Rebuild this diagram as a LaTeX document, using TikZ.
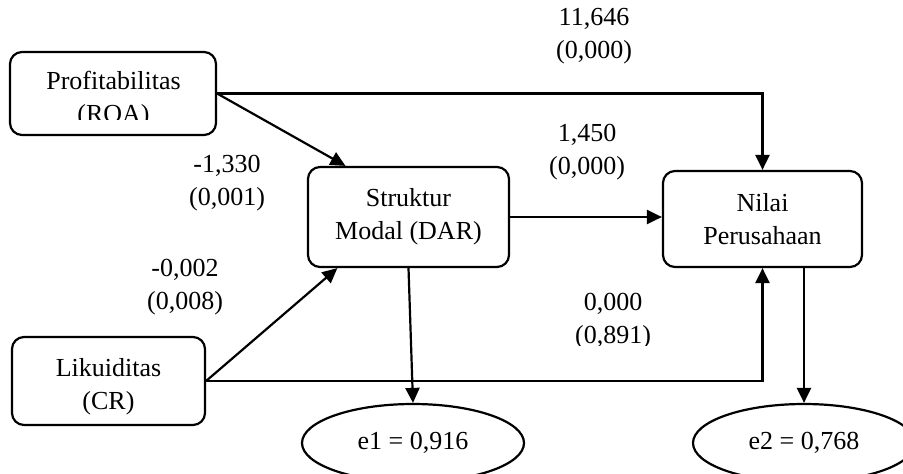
\documentclass[tikz,border=0pt]{standalone}
\usepackage{fontspec}
\setmainfont{Liberation Serif}
\usetikzlibrary{arrows.meta,calc,shapes.geometric}
\tikzset{
  box/.style={draw,line width=2.2pt,rounded corners=12pt,align=center,inner sep=0pt},
  err/.style={draw,line width=2.2pt,ellipse,inner sep=0pt,minimum width=222pt,minimum height=78pt},
  lbl/.style={align=center,inner sep=0pt},
  arr/.style={line width=2.2pt,-{Triangle[length=15pt,width=14pt]}},
}
\begin{document}
\begin{tikzpicture}[x=1pt,y=-1pt,font=\fontsize{26}{33}\selectfont]
\useasboundingbox (0,0) rectangle (903,474);
\begin{scope}
\clip (0,0) rectangle (903,474);
% boxes
\node[box,minimum width=206pt,minimum height=83pt] (roa) at (113,93.5) {};
\begin{scope}
\clip (0,0) rectangle (903,119);
\node[lbl] (roatext) at (113.5,100) {Profitabilitas\\(ROA)};
\end{scope}
\node[box,minimum width=193pt,minimum height=88pt] (cr) at (108.5,381) {\rule{0pt}{30pt}Likuiditas\\(CR)};
\node[box,minimum width=201pt,minimum height=100pt] (dar) at (408.5,217) {Struktur\\Modal (DAR)};
\node[box,minimum width=199pt,minimum height=96pt] (nilai) at (762.5,219) {Nilai\\Perusahaan};
\node[err] (e1) at (413,443) {e1 = 0,916};
\node[err] (e2) at (804,443) {e2 = 0,768};
% labels
\node[lbl] (l1) at (594,36.5) {11,646\\(0,000)};
\node[lbl] (l2) at (587,152.5) {1,450\\(0,000)};
\node[lbl] (l3) at (227,183.5) {-1,330\\(0,001)};
\node[lbl] (l4) at (185,287) {-0,002\\(0,008)};
\begin{scope}
\clip (0,0) rectangle (903,345);
\node[lbl] (l5) at (613,321) {0,000\\(0,891)};
\end{scope}
% connectors
\draw[arr] (roa.east) -| (nilai.north);
\draw[arr] (roa.east) -- ($(dar.north west)!0.19!(dar.north east)$);
\draw[arr] (dar.east) -- (dar.east -| nilai.west);
\draw[arr] (cr.east) -- ($(dar.south west)!0.15!(dar.south east)$);
\draw[arr] (cr.east) -| (nilai.south);
\draw[arr] (dar.south) -- (e1.north);
\draw[arr] ($(nilai.south)+(41.5,0)$) -- (e2.north);
\end{scope}
\end{tikzpicture}
\end{document}
